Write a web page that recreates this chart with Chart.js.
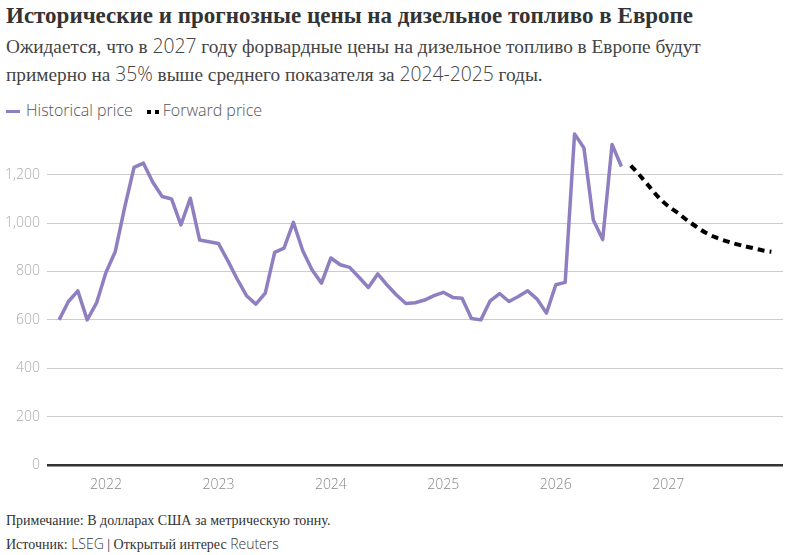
<!DOCTYPE html>
<html lang="ru">
<head>
<meta charset="utf-8">
<script src="https://cdn.jsdelivr.net/npm/chart.js@4/dist/chart.umd.min.js"></script>
<style>
  body { margin: 0; background: #fff; width: 791px; height: 555px; overflow: hidden; position: relative; }
  .serif { font-family: "Liberation Serif", "DejaVu Serif", serif; }
  .sans { font-family: "Open Sans", "Noto Sans", sans-serif; font-weight: 300; }
  #title { position: absolute; left: 6px; top: 3px; font-size: 23px; font-weight: bold; color: #333; white-space: nowrap; }
  #subtitle { position: absolute; left: 6px; top: 32px; font-size: 19.3px; line-height: 27px; color: #444; width: 770px; }
  #legend { position: absolute; left: 6px; top: 99px; font-size: 16px; color: #555; white-space: nowrap; }
  #legend .sw { display: inline-block; width: 14px; height: 3px; background: #8f7fc0; vertical-align: middle; margin-right: 6px; }
  #legend .dot { display: inline-block; width: 4px; height: 4px; background: #000; vertical-align: middle; margin-right: 4px; }
  #legend .gap { display: inline-block; width: 14px; }
  #notes { position: absolute; left: 6px; top: 509px; font-size: 14px; line-height: 23px; color: #333; }
  #wrap { position: absolute; left: 0; top: 111px; width: 791px; height: 384px; }
</style>
</head>
<body>
<div id="title" class="serif">Исторические и прогнозные цены на дизельное топливо в Европе</div>
<div id="subtitle" class="serif">Ожидается, что в <span class="sans">2027</span> году форвардные цены на дизельное топливо в Европе будут<br>примерно на <span class="sans">35%</span> выше среднего показателя за <span class="sans">2024-2025</span> годы.</div>
<div id="legend" class="sans"><span class="sw"></span>Historical price<span class="gap"></span><span class="dot"></span><span class="dot"></span>Forward price</div>
<div id="wrap"><canvas id="chart"></canvas></div>
<div id="notes" class="serif">
  <div>Примечание: В долларах США за метрическую тонну.</div>
  <div>Источник: <span class="sans">LSEG</span> | Открытый интерес <span class="sans">Reuters</span></div>
</div>
<script>
// Исторические цены, помесячно с августа 2021 по август 2026
const histStart = [2021, 8];
const historicalPrice = [
    600, 676, 720, 600, 670,                                         // 2021
    796, 883, 1065, 1231, 1248, 1169, 1110, 1100, 993, 1103, 930, 923, // 2022
    916, 845, 769, 700, 665, 711, 879, 897, 1003, 886, 806, 752,       // 2023
    856, 828, 817, 776, 734, 790, 744, 703, 668, 671, 682, 700,        // 2024
    714, 693, 689, 606, 600, 679, 709, 676, 697, 720, 686, 628,        // 2025
    745, 755, 1369, 1311, 1013, 932, 1325, 1234                        // 2026
];

// Форвардные цены, помесячно с сентября 2026 по декабрь 2027
const fwdStart = [2026, 9];
const forwardPrice = [
    1238, 1196, 1150, 1105,
    1070, 1043, 1012, 985, 960, 942, 928, 916, 906, 897, 888, 882
];

const yearLabels = [2022, 2023, 2024, 2025, 2026, 2027];
const yTicks = [0, 200, 400, 600, 800, 1000, 1200];

// месяц -> дробный год
function toPoints(start, values) {
    return values.map((v, i) => {
        const m = start[1] - 1 + i;
        return { x: start[0] + m / 12, y: v };
    });
}

const ctx = document.getElementById('chart').getContext('2d');
new Chart(ctx, {
    type: 'line',
    data: {
        datasets: [{
            label: 'Historical price',
            data: toPoints(histStart, historicalPrice),
            borderColor: '#8f7fc0',
            borderWidth: 3.5,
            pointRadius: 0,
            tension: 0,
            borderJoinStyle: 'round'
        }, {
            label: 'Forward price',
            data: toPoints(fwdStart, forwardPrice),
            borderColor: '#000',
            borderWidth: 4,
            borderDash: [7, 5],
            pointRadius: 0,
            tension: 0.3
        }]
    },
    options: {
        responsive: true,
        maintainAspectRatio: false,
        animation: false,
        layout: { padding: { top: 6, right: 8, left: 0, bottom: 0 } },
        plugins: {
            legend: { display: false },
            tooltip: { enabled: false }
        },
        scales: {
            x: {
                type: 'linear',
                min: 2021.476,
                max: 2028.02,
                afterBuildTicks: (scale) => {
                    scale.ticks = yearLabels.map(v => ({ value: v }));
                },
                afterFit: (scale) => { scale.height = 30; },
                ticks: {
                    color: '#888',
                    font: { family: 'Open Sans', size: 14, weight: 300 },
                    padding: 4,
                    callback: (v) => String(v)
                },
                grid: { display: false },
                border: { display: false }
            },
            y: {
                min: 0,
                max: 1400,
                afterBuildTicks: (scale) => {
                    scale.ticks = yTicks.map(v => ({ value: v }));
                },
                afterFit: (scale) => { scale.width = 47; },
                ticks: {
                    color: '#aaa',
                    font: { family: 'Open Sans', size: 14, weight: 300 },
                    padding: 7,
                    callback: (v) => v.toLocaleString('en-US')
                },
                grid: {
                    drawTicks: false,
                    color: (c) => c.tick && c.tick.value === 0 ? '#333' : '#ccc',
                    lineWidth: (c) => c.tick && c.tick.value === 0 ? 2.5 : 1
                },
                border: { display: false }
            }
        }
    }
});
</script>
</body>
</html>
